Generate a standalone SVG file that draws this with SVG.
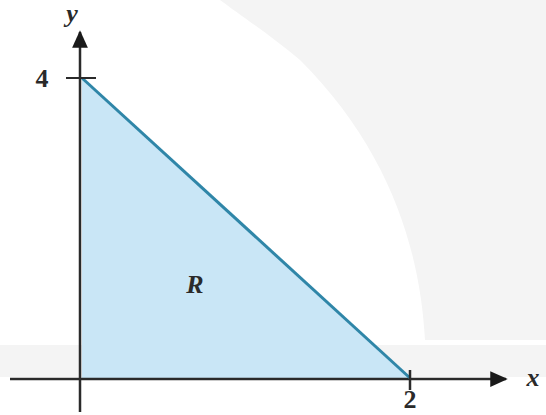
<svg xmlns="http://www.w3.org/2000/svg" width="546" height="415" viewBox="0 0 546 415">
<style>
.lbl{font-family:"Liberation Serif","DejaVu Serif",serif;fill:#2a2a2a;font-size:26px;font-weight:bold}
.it{font-style:italic}
.axis{stroke:#2a2a2a;stroke-width:2.5;fill:none}
</style>
<defs>
<marker id="ah" viewBox="0 0 10 10" refX="9" refY="5" markerWidth="11" markerHeight="7" orient="auto" markerUnits="strokeWidth">
<path d="M0,0.5 L10,5 L0,9.5 Z" fill="#1a1a1a"/>
</marker>
</defs>
<rect width="546" height="415" fill="#ffffff"/>
<g id="watermark" fill="#f4f4f4">
<path d="M220,0 L546,0 L546,340 L425,340 C420,250 390,150 300,60 C270,35 240,15 220,0 Z"/>
<rect x="0" y="345" width="546" height="32"/>
</g>
<g id="region">
<polygon points="82,78 82,378 410,378" fill="#c9e6f6"/>
<text class="lbl it" x="195" y="293" text-anchor="middle" font-size="24">R</text>
</g>
<g id="connectors">
<line class="axis" x1="10" y1="379" x2="506" y2="379" marker-end="url(#ah)"/>
<line class="axis" x1="80" y1="412" x2="80" y2="32" marker-end="url(#ah)"/>
<line x1="82" y1="78" x2="410" y2="378" stroke="#2f86a8" stroke-width="3"/>
<line x1="66" y1="78" x2="96" y2="78" stroke="#2a2a2a" stroke-width="2"/>
<line x1="410" y1="370" x2="410" y2="390" stroke="#2a2a2a" stroke-width="2.5"/>
</g>
<g id="labels">
<text class="lbl it" x="72" y="22" text-anchor="middle">y</text>
<text class="lbl" x="42" y="87" text-anchor="middle">4</text>
<text class="lbl" x="410" y="408" text-anchor="middle" font-size="23">2</text>
<text class="lbl it" x="533" y="386" text-anchor="middle">x</text>
</g>
</svg>
